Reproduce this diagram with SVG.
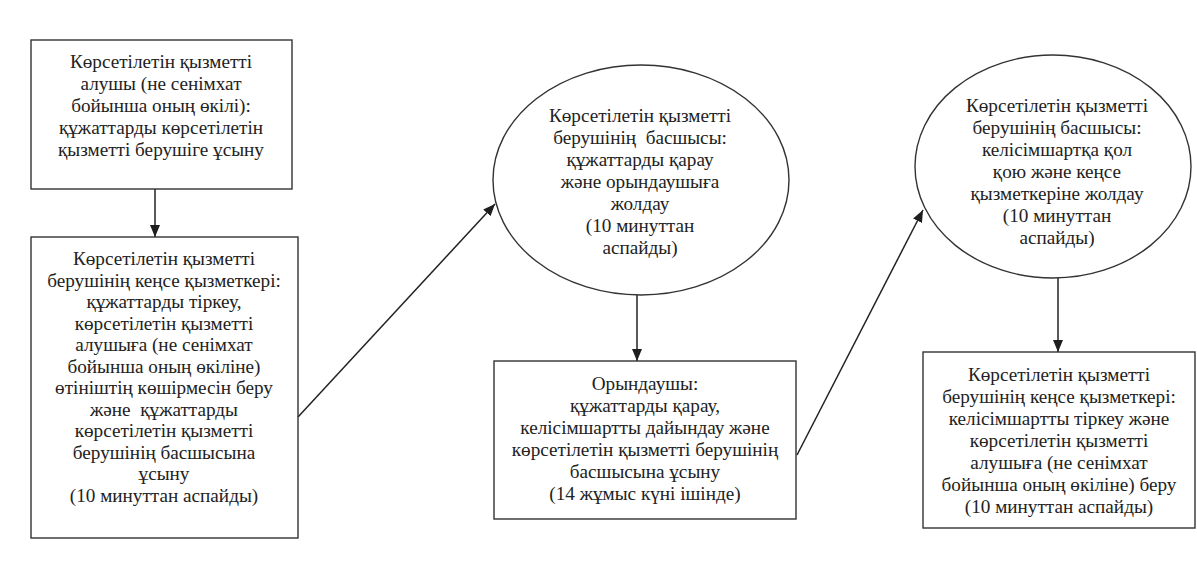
<svg xmlns="http://www.w3.org/2000/svg" width="1197" height="577" viewBox="0 0 1197 577">
<defs>
<marker id="arr" viewBox="0 0 12 10" refX="12" refY="5" markerWidth="12" markerHeight="10" markerUnits="userSpaceOnUse" orient="auto">
<path d="M0,0 L12,5 L0,10 z" fill="#1e1e1e"/>
</marker>
<style>
.box{fill:none;stroke:#333;stroke-width:1.4}
.t{font-family:"Liberation Serif","Times New Roman",serif;font-size:19.2px;fill:#222;text-anchor:middle;white-space:pre}
.c{fill:none;stroke:#222;stroke-width:1.5}
</style>
</defs>
<rect width="1197" height="577" fill="#fff"/>
<g id="connectors">
<line class="c" x1="155" y1="189" x2="155" y2="237" marker-end="url(#arr)"/>
<line class="c" x1="298" y1="417" x2="495" y2="204" marker-end="url(#arr)"/>
<line class="c" x1="637" y1="295" x2="637" y2="361" marker-end="url(#arr)"/>
<line class="c" x1="797" y1="455" x2="923" y2="210" marker-end="url(#arr)"/>
<line class="c" x1="1058" y1="278" x2="1058" y2="352" marker-end="url(#arr)"/>
</g>
<g id="n1">
<rect class="box" x="31" y="40" width="261" height="149"/>
<text class="t" x="161" y="68">Көрсетілетін қызметті</text>
<text class="t" x="161" y="90">алушы (не сенімхат</text>
<text class="t" x="161" y="112">бойынша оның өкілі):</text>
<text class="t" x="161" y="134">құжаттарды көрсетілетін</text>
<text class="t" x="161" y="156">қызметті берушіге ұсыну</text>
</g>
<g id="n2">
<rect class="box" x="31" y="237" width="267" height="301"/>
<text class="t" x="164" y="265">Көрсетілетін қызметті</text>
<text class="t" x="164" y="286.5">берушінің кеңсе қызметкері:</text>
<text class="t" x="164" y="308">құжаттарды тіркеу,</text>
<text class="t" x="164" y="329.5">көрсетілетін қызметті</text>
<text class="t" x="164" y="351">алушыға (не сенімхат</text>
<text class="t" x="164" y="372.5">бойынша оның өкіліне)</text>
<text class="t" x="164" y="394">өтініштің көшірмесін беру</text>
<text class="t" x="164" y="415.5">және  құжаттарды</text>
<text class="t" x="164" y="437">көрсетілетін қызметті</text>
<text class="t" x="164" y="458.5">берушінің басшысына</text>
<text class="t" x="164" y="480">ұсыну</text>
<text class="t" x="164" y="501.5">(10 минуттан аспайды)</text>
</g>
<g id="n3">
<ellipse class="box" cx="641" cy="180" rx="148" ry="115"/>
<text class="t" x="640" y="122">Көрсетілетін қызметті</text>
<text class="t" x="640" y="144">берушінің  басшысы:</text>
<text class="t" x="640" y="166">құжаттарды қарау</text>
<text class="t" x="640" y="188">және орындаушыға</text>
<text class="t" x="640" y="210">жолдау</text>
<text class="t" x="640" y="232">(10 минуттан</text>
<text class="t" x="640" y="254">аспайды)</text>
</g>
<g id="n4">
<rect class="box" x="494" y="361" width="302" height="158"/>
<text class="t" x="645" y="390">Орындаушы:</text>
<text class="t" x="645" y="412">құжаттарды қарау,</text>
<text class="t" x="645" y="434">келісімшартты дайындау және</text>
<text class="t" x="645" y="456">көрсетілетін қызметті берушінің</text>
<text class="t" x="645" y="478">басшысына ұсыну</text>
<text class="t" x="645" y="500">(14 жұмыс күні ішінде)</text>
</g>
<g id="n5">
<ellipse class="box" cx="1053" cy="166.5" rx="138" ry="111.5"/>
<text class="t" x="1057" y="112">Көрсетілетін қызметті</text>
<text class="t" x="1057" y="134">берушінің басшысы:</text>
<text class="t" x="1057" y="156">келісімшартқа қол</text>
<text class="t" x="1057" y="178">қою және кеңсе</text>
<text class="t" x="1057" y="200">қызметкеріне жолдау</text>
<text class="t" x="1057" y="222">(10 минуттан</text>
<text class="t" x="1057" y="244">аспайды)</text>
</g>
<g id="n6">
<rect class="box" x="923" y="352" width="272" height="176"/>
<text class="t" x="1059" y="381">Көрсетілетін қызметті</text>
<text class="t" x="1059" y="403">берушінің кеңсе қызметкері:</text>
<text class="t" x="1059" y="425">келісімшартты тіркеу және</text>
<text class="t" x="1059" y="447">көрсетілетін қызметті</text>
<text class="t" x="1059" y="469">алушыға (не сенімхат</text>
<text class="t" x="1059" y="491">бойынша оның өкіліне) беру</text>
<text class="t" x="1059" y="513">(10 минуттан аспайды)</text>
</g>
</svg>
